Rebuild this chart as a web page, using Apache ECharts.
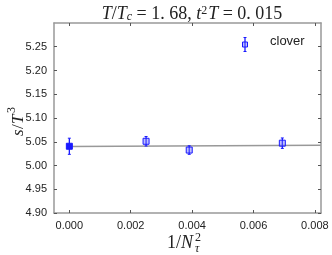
<!DOCTYPE html>
<html><head><meta charset="utf-8">
<script src="https://cdn.jsdelivr.net/npm/echarts@6/dist/echarts.min.js"></script>
<style>html,body{margin:0;padding:0;background:#fff}#c{width:332px;height:255px}</style>
</head><body><div id="c"></div>
<script>
const xValues = [0.0, 0.0025, 0.00390625, 0.00694];
const yValues = [5.0405, 5.0510, 5.0325, 5.0470];
const yErrors = [0.017, 0.010, 0.009, 0.011];
const fitX = [0.0, 0.0082];
const fitY = [5.0400, 5.0425];
const xTicks = [0.000, 0.002, 0.004, 0.006, 0.008];
const yTicks = [4.90, 4.95, 5.00, 5.05, 5.10, 5.15, 5.20, 5.25];
const legendLabel = 'clover';

const chart = echarts.init(document.getElementById('c'), null, {renderer: 'canvas'});
const blue = '#1a1aff';
const axisCol = '#999';
const serif = 'Liberation Serif';
const sans = 'Liberation Sans';

const pts = xValues.map((x, i) => [x, yValues[i], yErrors[i]]);

function errRender(params, api) {
  const x = api.value(0), y = api.value(1), e = api.value(2);
  const top = api.coord([x, y + e]);
  const bot = api.coord([x, y - e]);
  return {
    type: 'group',
    children: [
      {type: 'line', shape: {x1: top[0], y1: top[1], x2: bot[0], y2: bot[1]}, style: {stroke: blue, lineWidth: 1.3}},
      {type: 'line', shape: {x1: top[0]-1.5, y1: top[1], x2: top[0]+1.5, y2: top[1]}, style: {stroke: blue, lineWidth: 1}},
      {type: 'line', shape: {x1: bot[0]-1.5, y1: bot[1], x2: bot[0]+1.5, y2: bot[1]}, style: {stroke: blue, lineWidth: 1}}
    ]
  };
}

const xMin = -0.0005, xMax = 0.0082;
const yMin = 4.90, yMax = 5.30;
const txt = '#222';

chart.setOption({
  animation: false,
  grid: {left: 54, right: 11, top: 23, bottom: 42, containLabel: false, outerBoundsMode: 'none'},
  title: {
    text: '{i|T}{n|/}{i|T}{sub|c}{n| = 1. 68, }{i|t}{sup|2}{i|T}{n| = 0. 015}',
    left: 187, top: 0, textAlign: 'center',
    textStyle: {
      fontWeight: 'normal',
      rich: {
        i: {fontFamily: serif, fontStyle: 'italic', fontWeight: 'normal', fontSize: 18, color: txt},
        n: {fontFamily: serif, fontWeight: 'normal', fontSize: 18, color: txt},
        sub: {fontFamily: serif, fontStyle: 'italic', fontWeight: 'normal', fontSize: 12, color: txt, verticalAlign: 'bottom', padding: [6, 0, 0, 0]},
        sup: {fontFamily: serif, fontWeight: 'normal', fontSize: 12, color: txt, verticalAlign: 'top', padding: [0, 1, 6, 0]}
      }
    }
  },
  xAxis: [{
    type: 'value', min: xMin, max: xMax, position: 'bottom',
    axisLine: {show: true, onZero: false, lineStyle: {color: axisCol, width: 1.5}},
    axisTick: {show: true, inside: true, length: 3, customValues: xTicks, lineStyle: {color: '#555'}},
    axisLabel: {customValues: xTicks, formatter: v => v.toFixed(3), fontFamily: sans, fontSize: 11, color: txt, margin: 7},
    splitLine: {show: false}
  }, {
    type: 'value', min: xMin, max: xMax, position: 'top',
    axisLine: {show: true, onZero: false, lineStyle: {color: axisCol, width: 1.5}},
    axisTick: {show: true, inside: true, length: 3, customValues: xTicks, lineStyle: {color: '#555'}},
    axisLabel: {show: false}, splitLine: {show: false}
  }],
  yAxis: [{
    type: 'value', min: yMin, max: yMax, position: 'left',
    axisLine: {show: true, onZero: false, lineStyle: {color: axisCol, width: 1.5}},
    axisTick: {show: true, inside: true, length: 3, customValues: yTicks, lineStyle: {color: '#555'}},
    axisLabel: {customValues: yTicks, formatter: v => v.toFixed(2), fontFamily: sans, fontSize: 11, color: txt, margin: 7},
    splitLine: {show: false}
  }, {
    type: 'value', min: yMin, max: yMax, position: 'right',
    axisLine: {show: true, onZero: false, lineStyle: {color: axisCol, width: 1.5}},
    axisTick: {show: true, inside: true, length: 3, customValues: yTicks, lineStyle: {color: '#555'}},
    axisLabel: {show: false}, splitLine: {show: false}
  }],
  graphic: [
    {type: 'group', x: 27, y: 136, rotation: Math.PI / 2, children: [
      {type: 'text', x: 0, y: 0, style: {text: 's', font: 'italic 17px "Liberation Serif"', fill: txt, verticalAlign: 'bottom'}},
      {type: 'text', x: 7, y: 0, style: {text: '/', font: '17px "Liberation Serif"', fill: txt, verticalAlign: 'bottom'}},
      {type: 'text', x: 12, y: 0, style: {text: 'T', font: 'italic 17px "Liberation Serif"', fill: txt, verticalAlign: 'bottom'}},
      {type: 'text', x: 23, y: -9, style: {text: '3', font: '12px "Liberation Serif"', fill: txt, verticalAlign: 'bottom'}}
    ]},
    {type: 'group', left: 167, top: 232, children: [
      {type: 'text', x: 0, y: 2, style: {text: '1/', font: '18px "Liberation Serif"', fill: txt}},
      {type: 'text', x: 14, y: 2, style: {text: 'N', font: 'italic 18px "Liberation Serif"', fill: txt}},
      {type: 'text', x: 28, y: 0, style: {text: '2', font: '12px "Liberation Serif"', fill: txt}},
      {type: 'text', x: 28, y: 11, style: {text: 'τ', font: 'italic 12px "Liberation Serif"', fill: txt}}
    ]},
    {type: 'group', left: 241, top: 35, children: [
      {type: 'line', shape: {x1: 3, y1: 0, x2: 3, y2: 14}, style: {stroke: blue, lineWidth: 1.3}},
      {type: 'line', shape: {x1: 1.5, y1: 0, x2: 4.5, y2: 0}, style: {stroke: blue, lineWidth: 1}},
      {type: 'line', shape: {x1: 1.5, y1: 14, x2: 4.5, y2: 14}, style: {stroke: blue, lineWidth: 1}},
      {type: 'rect', shape: {x: 0.5, y: 4.5, width: 5, height: 5}, style: {fill: 'rgba(110,110,255,0.45)', stroke: blue, lineWidth: 1}}
    ]},
    {type: 'text', left: 270, top: 35, style: {text: legendLabel, font: '13px "Liberation Sans"', fill: txt}}
  ],
  series: [
    {type: 'line', data: fitX.map((x, i) => [x, fitY[i]]), showSymbol: false, symbol: 'none',
     lineStyle: {color: '#999', width: 1.5}, z: 1},
    {type: 'custom', renderItem: errRender, data: pts, z: 2},
    {type: 'scatter', data: pts.slice(0, 1).map(p => [p[0], p[1]]), symbol: 'rect', symbolSize: 6,
     itemStyle: {color: blue, borderColor: blue, borderWidth: 1, opacity: 1}, z: 3},
    {type: 'scatter', data: pts.slice(1).map(p => [p[0], p[1]]), symbol: 'rect', symbolSize: 6,
     itemStyle: {color: 'rgba(110,110,255,0.45)', borderColor: blue, borderWidth: 1, opacity: 1}, z: 3}
  ]
});
</script></body></html>
